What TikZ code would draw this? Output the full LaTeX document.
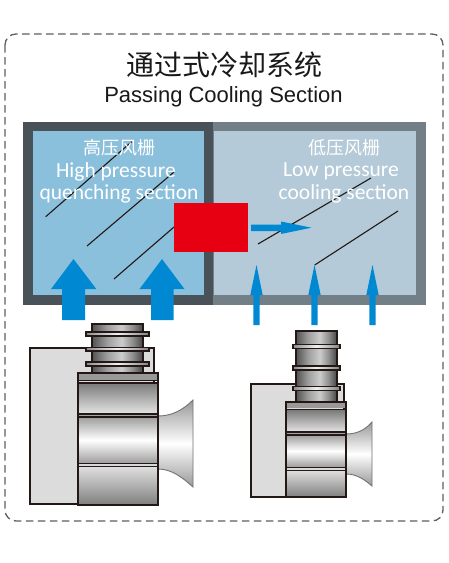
\documentclass[tikz,border=0pt]{standalone}
\usepackage{fontspec}
\setmainfont{Liberation Sans}
\newfontfamily\cjkf{Noto Sans CJK SC}
\newfontfamily\carl{Carlito}
\definecolor{frameA}{HTML}{4A5259}
\definecolor{frameB}{HTML}{727F87}
\definecolor{paneA}{HTML}{8BC0DC}
\definecolor{paneB}{HTML}{B4CAD8}
\definecolor{flow}{HTML}{0089D2}
\definecolor{heater}{HTML}{E60012}
\definecolor{edge}{HTML}{231815}
\definecolor{housing}{HTML}{DCDCDD}
\definecolor{dashgrey}{HTML}{5F5F5F}
\pgfdeclarehorizontalshading{colgrad}{100bp}{rgb(0bp)=(0.32,0.32,0.32);rgb(25bp)=(0.32,0.32,0.32);rgb(40bp)=(0.62,0.62,0.62);rgb(54bp)=(0.80,0.80,0.80);rgb(65bp)=(0.55,0.55,0.55);rgb(75bp)=(0.27,0.27,0.27);rgb(100bp)=(0.27,0.27,0.27)}
\pgfdeclarehorizontalshading{ringgrad}{100bp}{rgb(0bp)=(0.55,0.55,0.55);rgb(25bp)=(0.55,0.55,0.55);rgb(50bp)=(0.95,0.95,0.95);rgb(75bp)=(0.50,0.50,0.50);rgb(100bp)=(0.50,0.50,0.50)}
% vertical shadings run from bottom (25bp) to top (75bp) of the path
\pgfdeclareverticalshading{topgrad}{100bp}{rgb(0bp)=(0.90,0.90,0.90);rgb(25bp)=(0.90,0.90,0.90);rgb(75bp)=(0.48,0.48,0.48);rgb(100bp)=(0.48,0.48,0.48)}
\pgfdeclareverticalshading{botgrad}{100bp}{rgb(0bp)=(0.50,0.50,0.50);rgb(25bp)=(0.50,0.50,0.50);rgb(75bp)=(0.88,0.88,0.88);rgb(100bp)=(0.88,0.88,0.88)}
\pgfdeclareverticalshading{midgrad}{100bp}{rgb(0bp)=(0.62,0.62,0.62);rgb(25bp)=(0.62,0.62,0.62);rgb(50bp)=(1,1,1);rgb(75bp)=(0.62,0.62,0.62);rgb(100bp)=(0.62,0.62,0.62)}
\pgfdeclareverticalshading{horngrad}{100bp}{rgb(0bp)=(0.60,0.60,0.60);rgb(25bp)=(0.60,0.60,0.60);rgb(50bp)=(1,1,1);rgb(75bp)=(0.60,0.60,0.60);rgb(100bp)=(0.60,0.60,0.60)}
\tikzset{
  wire/.style={draw=edge,line width=1.1pt},
  flowarrow/.style={fill=flow,draw=none},
  paneltext/.style={text=white,inner sep=0pt,anchor=center},
  partline/.style={draw=edge,line width=1.2pt},
  colshade/.style={shade,shading=colgrad},
  ringshade/.style={shade,shading=ringgrad},
  darktop/.style={shade,shading=topgrad},
  darkbot/.style={shade,shading=botgrad},
  midshade/.style={shade,shading=midgrad},
  hornshade/.style={shade,shading=horngrad},
}
\newcommand{\ringbar}[4]{\path[ringshade,draw=edge,line width=1.1pt] (#1,#3) rectangle (#2,#4);}
\begin{document}
\begin{tikzpicture}[x=1pt,y=-1pt]
\useasboundingbox (0,0) rectangle (448,563);
\fill[white] (0,0) rectangle (448,563);
\draw[dashgrey,line width=1.3pt,dash pattern=on 7.5pt off 4.5pt,rounded corners=11pt] (5,34) rectangle (443,521);
\node[inner sep=0pt,font=\cjkf\fontsize{28}{28}\selectfont,text=black!90] (title) at (224,65) {通过式冷却系统};
\node[inner sep=0pt,font=\fontsize{22}{22}\selectfont,text=black!90] (subtitle) at (223.5,97) {Passing Cooling Section};
% panels
\fill[frameB] (213,122) rectangle (426,305);
\fill[paneB] (214,131) rectangle (416,295);
\fill[frameA] (23,122) rectangle (213,305);
\fill[paneA] (33,131) rectangle (204,295);
% louvres
\draw[wire] (45.7,216.7) -- (131.7,141.7);
\draw[wire] (87,246) -- (174,172);
\draw[wire] (114,279) -- (174,227);
\draw[wire] (258,244) -- (371,178);
\draw[wire] (314.7,265) -- (398,211);
% texts
\node[paneltext,font=\cjkf\fontsize{18}{18}\selectfont] (hpcn) at (119,148) {高压风栅};
\node[paneltext,font=\carl\fontsize{21.5}{21.5}\selectfont] (hpa) at (116,171.5) {High pressure};
\node[paneltext,font=\carl\fontsize{21.5}{21.5}\selectfont] (hpb) at (119,193.5) {quenching section};
\node[paneltext,font=\cjkf\fontsize{18}{18}\selectfont] (lpcn) at (344,148) {低压风栅};
\node[paneltext,font=\carl\fontsize{21.5}{21.5}\selectfont] (lpa) at (341,171.5) {Low pressure};
\node[paneltext,font=\carl\fontsize{21.5}{21.5}\selectfont] (lpb) at (344,193.5) {cooling section};
% heater
\fill[heater] (174,203) rectangle (248,252);
% flow arrows
\fill[flowarrow] (73.5,259) -- (96.3,289) -- (85,289) -- (85,320) -- (62,320) -- (62,289) -- (51,289) -- cycle;
\fill[flowarrow] (162,259) -- (184.5,289) -- (173.5,289) -- (173.5,320) -- (151,320) -- (151,289) -- (139.5,289) -- cycle;
\fill[flowarrow] (256.5,265) -- (262.7,295) -- (259.7,295) -- (259.7,325) -- (253.3,325) -- (253.3,295) -- (250.3,295) -- cycle;
\fill[flowarrow] (314.5,265) -- (320.7,295) -- (317.7,295) -- (317.7,325) -- (311.3,325) -- (311.3,295) -- (308.3,295) -- cycle;
\fill[flowarrow] (372.5,265) -- (378.7,295) -- (375.7,295) -- (375.7,325) -- (369.3,325) -- (369.3,295) -- (366.3,295) -- cycle;
\fill[flowarrow] (311.5,227.7) -- (281,221.5) -- (281,224.5) -- (251,224.5) -- (251,231) -- (281,231) -- (281,234) -- cycle;
% large pump
\filldraw[fill=housing,draw=edge,line width=1.1pt] (30,348) rectangle (154,504);
\path[colshade,draw=edge,line width=1.1pt] (92,324) rectangle (143,373);
\ringbar{86}{149}{332}{336}
\ringbar{86}{149}{347.5}{351}
\ringbar{86}{149}{362}{366}
\path[hornshade,draw=black!55,line width=0.9pt] (158,416) .. controls (172,416) and (183,410) .. (193,400) -- (193,487) .. controls (183,478) and (172,469) .. (158,469) -- cycle;
\fill[black!40] (78,373) rectangle (158,380);
\path[darktop] (78,383) rectangle (158,414);
\path[midshade] (78,417) rectangle (158,463);
\path[darkbot] (78,466) rectangle (158,505);
\draw[partline] (78,373) rectangle (158,505);
\draw[partline] (78,380.5) -- (158,380.5);
\draw[partline] (78,383) -- (158,383);
\draw[draw=edge,line width=1.1pt,fill=black!35] (78,414) rectangle (158,417);
\draw[draw=edge,line width=1.4pt,fill=black!15] (78,463.5) rectangle (158,466.5);
% small pump
\filldraw[fill=housing,draw=edge,line width=1.1pt] (251,384) rectangle (344,497);
\path[colshade,draw=edge,line width=1.1pt] (296,331) rectangle (337,402);
\ringbar{293}{340}{344.5}{348.5}
\ringbar{293}{340}{366}{370}
\ringbar{293}{340}{386.5}{390.5}
\path[hornshade,draw=black!55,line width=0.9pt] (346,434) .. controls (357,434) and (365,430) .. (372,422) -- (372,486) .. controls (365,480) and (357,474) .. (346,474) -- cycle;
\fill[black!40] (286,402) rectangle (346,408);
\path[darktop] (286,410) rectangle (346,432);
\path[midshade] (286,435) rectangle (346,467);
\path[darkbot] (286,470) rectangle (346,497);
\draw[partline] (286,402) rectangle (346,497);
\draw[partline,line width=1.4pt] (286,409.5) -- (346,409.5);
\draw[draw=edge,line width=1.2pt,fill=black!35] (286,432) rectangle (346,435);
\draw[draw=edge,line width=1.2pt,fill=black!15] (286,467.5) rectangle (346,470.5);
\end{tikzpicture}
\end{document}
